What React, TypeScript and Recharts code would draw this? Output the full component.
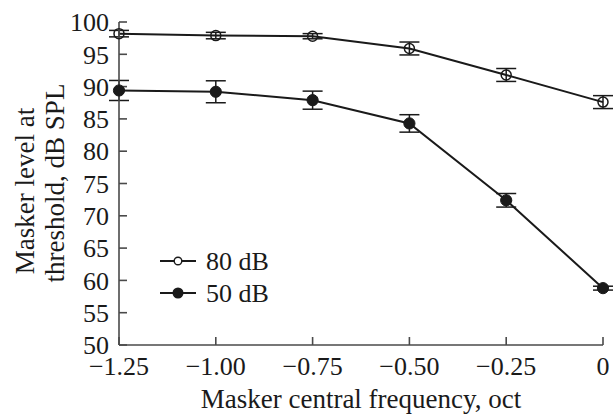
import React from 'react';
import { LineChart, Line, XAxis, YAxis, ErrorBar } from 'recharts';

const frequencies = [-1.25, -1.0, -0.75, -0.5, -0.25, 0];
const level80 = [98.2, 97.9, 97.8, 95.9, 91.8, 87.6];
const err80 = [0.5, 0.5, 0.4, 1.0, 1.0, 1.0];
const level50 = [89.4, 89.2, 87.9, 84.3, 72.4, 58.8];
const err50 = [1.55, 1.7, 1.4, 1.35, 1.05, 0.3];
const xTicks = [-1.25, -1.0, -0.75, -0.5, -0.25, 0];
const yTicks = [50, 55, 60, 65, 70, 75, 80, 85, 90, 95, 100];
const seriesNames = ['80 dB', '50 dB'];

const data = frequencies.map((x, i) => ({
  x,
  y80: level80[i],
  e80: err80[i],
  y50: level50[i],
  e50: err50[i],
}));

const FONT = "'Liberation Serif', 'Times New Roman', serif";
const INK = '#1a1a1a';
const AXIS = '#4a4a4a';

const fmtX = (v: number) => (v === 0 ? '0' : '\u2212' + Math.abs(v).toFixed(2));

const YLabel = (props: any) => {
  const vb = props.viewBox || { x: 0, y: 22, width: 119, height: 323 };
  const x0 = vb.x || 0;
  const c1 = 191;
  const c2 = 183;
  const b1 = x0 + 33.5;
  const b2 = x0 + 63.5;
  return (
    <g>
      <text
        x={b1}
        y={c1}
        transform={`rotate(-90, ${b1}, ${c1})`}
        textAnchor="middle"
        fontFamily={FONT}
        fontSize={27}
        fill={INK}
      >
        Masker level at
      </text>
      <text
        x={b2}
        y={c2}
        transform={`rotate(-90, ${b2}, ${c2})`}
        textAnchor="middle"
        fontFamily={FONT}
        fontSize={27}
        fill={INK}
      >
        threshold, dB SPL
      </text>
    </g>
  );
};

const LegendBox = () => (
  <svg
    width={130}
    height={70}
    style={{ position: 'absolute', left: 160, top: 249, overflow: 'visible' }}
  >
    {seriesNames.map((name, i) => {
      const cy = 12 + i * 32;
      return (
        <g key={name}>
          <line x1={0} x2={36} y1={cy} y2={cy} stroke={INK} strokeWidth={2} />
          <circle
            cx={18}
            cy={cy}
            r={i === 0 ? 3.8 : 4.8}
            fill={i === 0 ? '#fff' : INK}
            stroke={INK}
            strokeWidth={1.4}
          />
          <text x={46} y={cy + 9} fontFamily={FONT} fontSize={26} fill={INK}>
            {name}
          </text>
        </g>
      );
    })}
  </svg>
);

export default function App() {
  return (
    <div style={{ position: 'absolute', left: 0, top: 0, width: 614, height: 416, background: '#fff' }}>
      <LineChart
        width={614}
        height={416}
        data={data}
        margin={{ top: 22, right: 11, left: 0, bottom: 0 }}
      >
        <XAxis
          dataKey="x"
          type="number"
          domain={[-1.25, 0]}
          ticks={xTicks}
          tickFormatter={fmtX}
          height={71}
          tickSize={-8}
          tickMargin={20}
          axisLine={{ stroke: AXIS, strokeWidth: 1.6 }}
          tickLine={{ stroke: AXIS, strokeWidth: 1.6 }}
          tick={{ fill: INK, fontFamily: FONT, fontSize: 26 }}
          interval={0}
          label={{
            value: 'Masker central frequency, oct',
            position: 'insideBottom',
            offset: 8,
            fill: INK,
            fontFamily: FONT,
            fontSize: 27,
          }}
        />
        <YAxis
          type="number"
          domain={[50, 100]}
          ticks={yTicks}
          width={119}
          tickSize={-8}
          tickMargin={18}
          axisLine={{ stroke: AXIS, strokeWidth: 1.6 }}
          tickLine={{ stroke: AXIS, strokeWidth: 1.6 }}
          tick={{ fill: INK, fontFamily: FONT, fontSize: 26 }}
          interval={0}
          label={{ content: YLabel }}
        />
        <Line
          dataKey="y80"
          stroke={INK}
          strokeWidth={2}
          isAnimationActive={false}
          dot={{ r: 5, fill: 'none', stroke: INK, strokeWidth: 1.5 }}
          activeDot={false}
        >
          <ErrorBar dataKey="e80" width={10} stroke={INK} strokeWidth={1.5} direction="y" isAnimationActive={false} />
        </Line>
        <Line
          dataKey="y50"
          stroke={INK}
          strokeWidth={2}
          isAnimationActive={false}
          dot={{ r: 5.6, fill: INK, stroke: INK, strokeWidth: 1 }}
          activeDot={false}
        >
          <ErrorBar dataKey="e50" width={10} stroke={INK} strokeWidth={1.5} direction="y" isAnimationActive={false} />
        </Line>
      </LineChart>
      <LegendBox />
    </div>
  );
}
